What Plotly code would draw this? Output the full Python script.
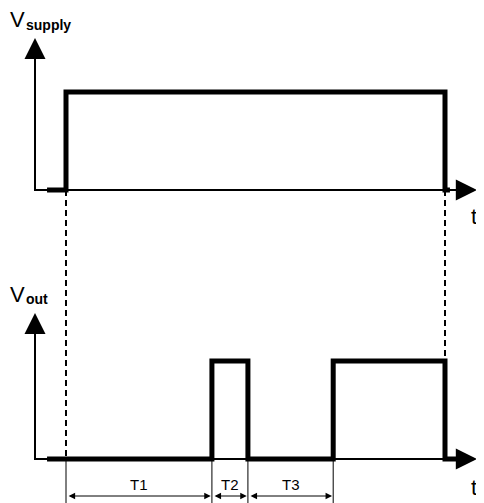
import plotly.graph_objects as go

# ---- data (time units) ----
supply_t = [-0.5, 0.0, 10.0, 10.13]
supply_v = [0, 1, 0, 0]
vout_t = [-0.5, 3.85, 4.8, 7.05, 10.0, 10.3]
vout_v = [0, 1, 0, 1, 0, 0]
interval_labels = ["T1", "T2", "T3"]
interval_edges = [0.0, 3.85, 4.8, 7.05]

SUP_OFF = 2.745      # vertical offset of the supply trace
X_RANGE = [-1.5303, 11.240]
Y_RANGE = [-0.531, 4.602]
AXIS_T = -0.818
ARROW_T = 10.84

fig = go.Figure()
FONT = "Liberation Sans, Arial, sans-serif"

# thin axes (lines) + arrowheads
for base, top in [(SUP_OFF, 4.296), (0.0, 1.49)]:
    fig.add_trace(go.Scatter(x=[AXIS_T, AXIS_T, ARROW_T - 0.25], y=[top - 0.1, base, base],
                             mode="lines", line=dict(color="black", width=2),
                             hoverinfo="skip", showlegend=False))
    fig.add_annotation(x=AXIS_T, y=top, ax=AXIS_T, ay=top - 0.3, xref="x", yref="y",
                       axref="x", ayref="y", text="", showarrow=True, arrowhead=2,
                       arrowsize=2.1, arrowwidth=2, arrowcolor="black", standoff=0)
    fig.add_annotation(x=ARROW_T, y=base, ax=ARROW_T - 0.4, ay=base, xref="x", yref="y",
                       axref="x", ayref="y", text="", showarrow=True, arrowhead=2,
                       arrowsize=2.1, arrowwidth=2, arrowcolor="black", standoff=0)

# dashed guides
fig.add_trace(go.Scatter(x=[supply_t[1], supply_t[1]], y=[SUP_OFF, 0.0], mode="lines",
                         line=dict(color="black", width=2, dash="6px,4px"),
                         hoverinfo="skip", showlegend=False))
fig.add_trace(go.Scatter(x=[supply_t[2], supply_t[2]], y=[SUP_OFF, 1.0], mode="lines",
                         line=dict(color="black", width=2, dash="6px,4px"),
                         hoverinfo="skip", showlegend=False))

# signals
fig.add_trace(go.Scatter(x=supply_t, y=[v + SUP_OFF for v in supply_v], mode="lines",
                         line=dict(color="black", width=5, shape="hv"),
                         hoverinfo="skip", showlegend=False))
fig.add_trace(go.Scatter(x=vout_t, y=vout_v, mode="lines",
                         line=dict(color="black", width=5, shape="hv"),
                         hoverinfo="skip", showlegend=False))

# dimension lines
for e in interval_edges:
    fig.add_trace(go.Scatter(x=[e, e], y=[0.0, Y_RANGE[0]], mode="lines",
                             line=dict(color="black", width=1),
                             hoverinfo="skip", showlegend=False))
DIM_Y = -0.378
for lab, a, b in zip(interval_labels, interval_edges[:-1], interval_edges[1:]):
    fig.add_annotation(x=b - 0.03, y=DIM_Y, ax=a + 0.03, ay=DIM_Y, xref="x", yref="y",
                       axref="x", ayref="y", text="", showarrow=True, arrowhead=2,
                       arrowside="end+start", arrowsize=1.3, arrowwidth=1,
                       arrowcolor="black", standoff=0, startstandoff=0)
    fig.add_annotation(x=(a + b) / 2, y=-0.265, text=lab, showarrow=False,
                       font=dict(family=FONT, size=15, color="black"))

# labels
fig.add_annotation(x=-1.53, y=4.48, text="V", showarrow=False, xanchor="left",
                   font=dict(family=FONT, size=22, color="black"))
fig.add_annotation(x=-1.10, y=4.43, text="<b>supply</b>", showarrow=False, xanchor="left",
                   font=dict(family=FONT, size=14, color="black"))
fig.add_annotation(x=-1.53, y=1.68, text="V", showarrow=False, xanchor="left",
                   font=dict(family=FONT, size=22, color="black"))
fig.add_annotation(x=-1.10, y=1.63, text="<b>out</b>", showarrow=False, xanchor="left",
                   font=dict(family=FONT, size=14, color="black"))
fig.add_annotation(x=10.77, y=2.47, text="t", showarrow=False, xanchor="center",
                   font=dict(family=FONT, size=22, color="black"))
fig.add_annotation(x=10.77, y=-0.29, text="t", showarrow=False, xanchor="center",
                   font=dict(family=FONT, size=22, color="black"))

fig.update_layout(width=484, height=503, margin=dict(l=0, r=0, t=0, b=0),
                  paper_bgcolor="white", plot_bgcolor="white",
                  xaxis=dict(range=X_RANGE, visible=False, fixedrange=True),
                  yaxis=dict(range=Y_RANGE, visible=False, fixedrange=True))
fig.write_html("out.html")
